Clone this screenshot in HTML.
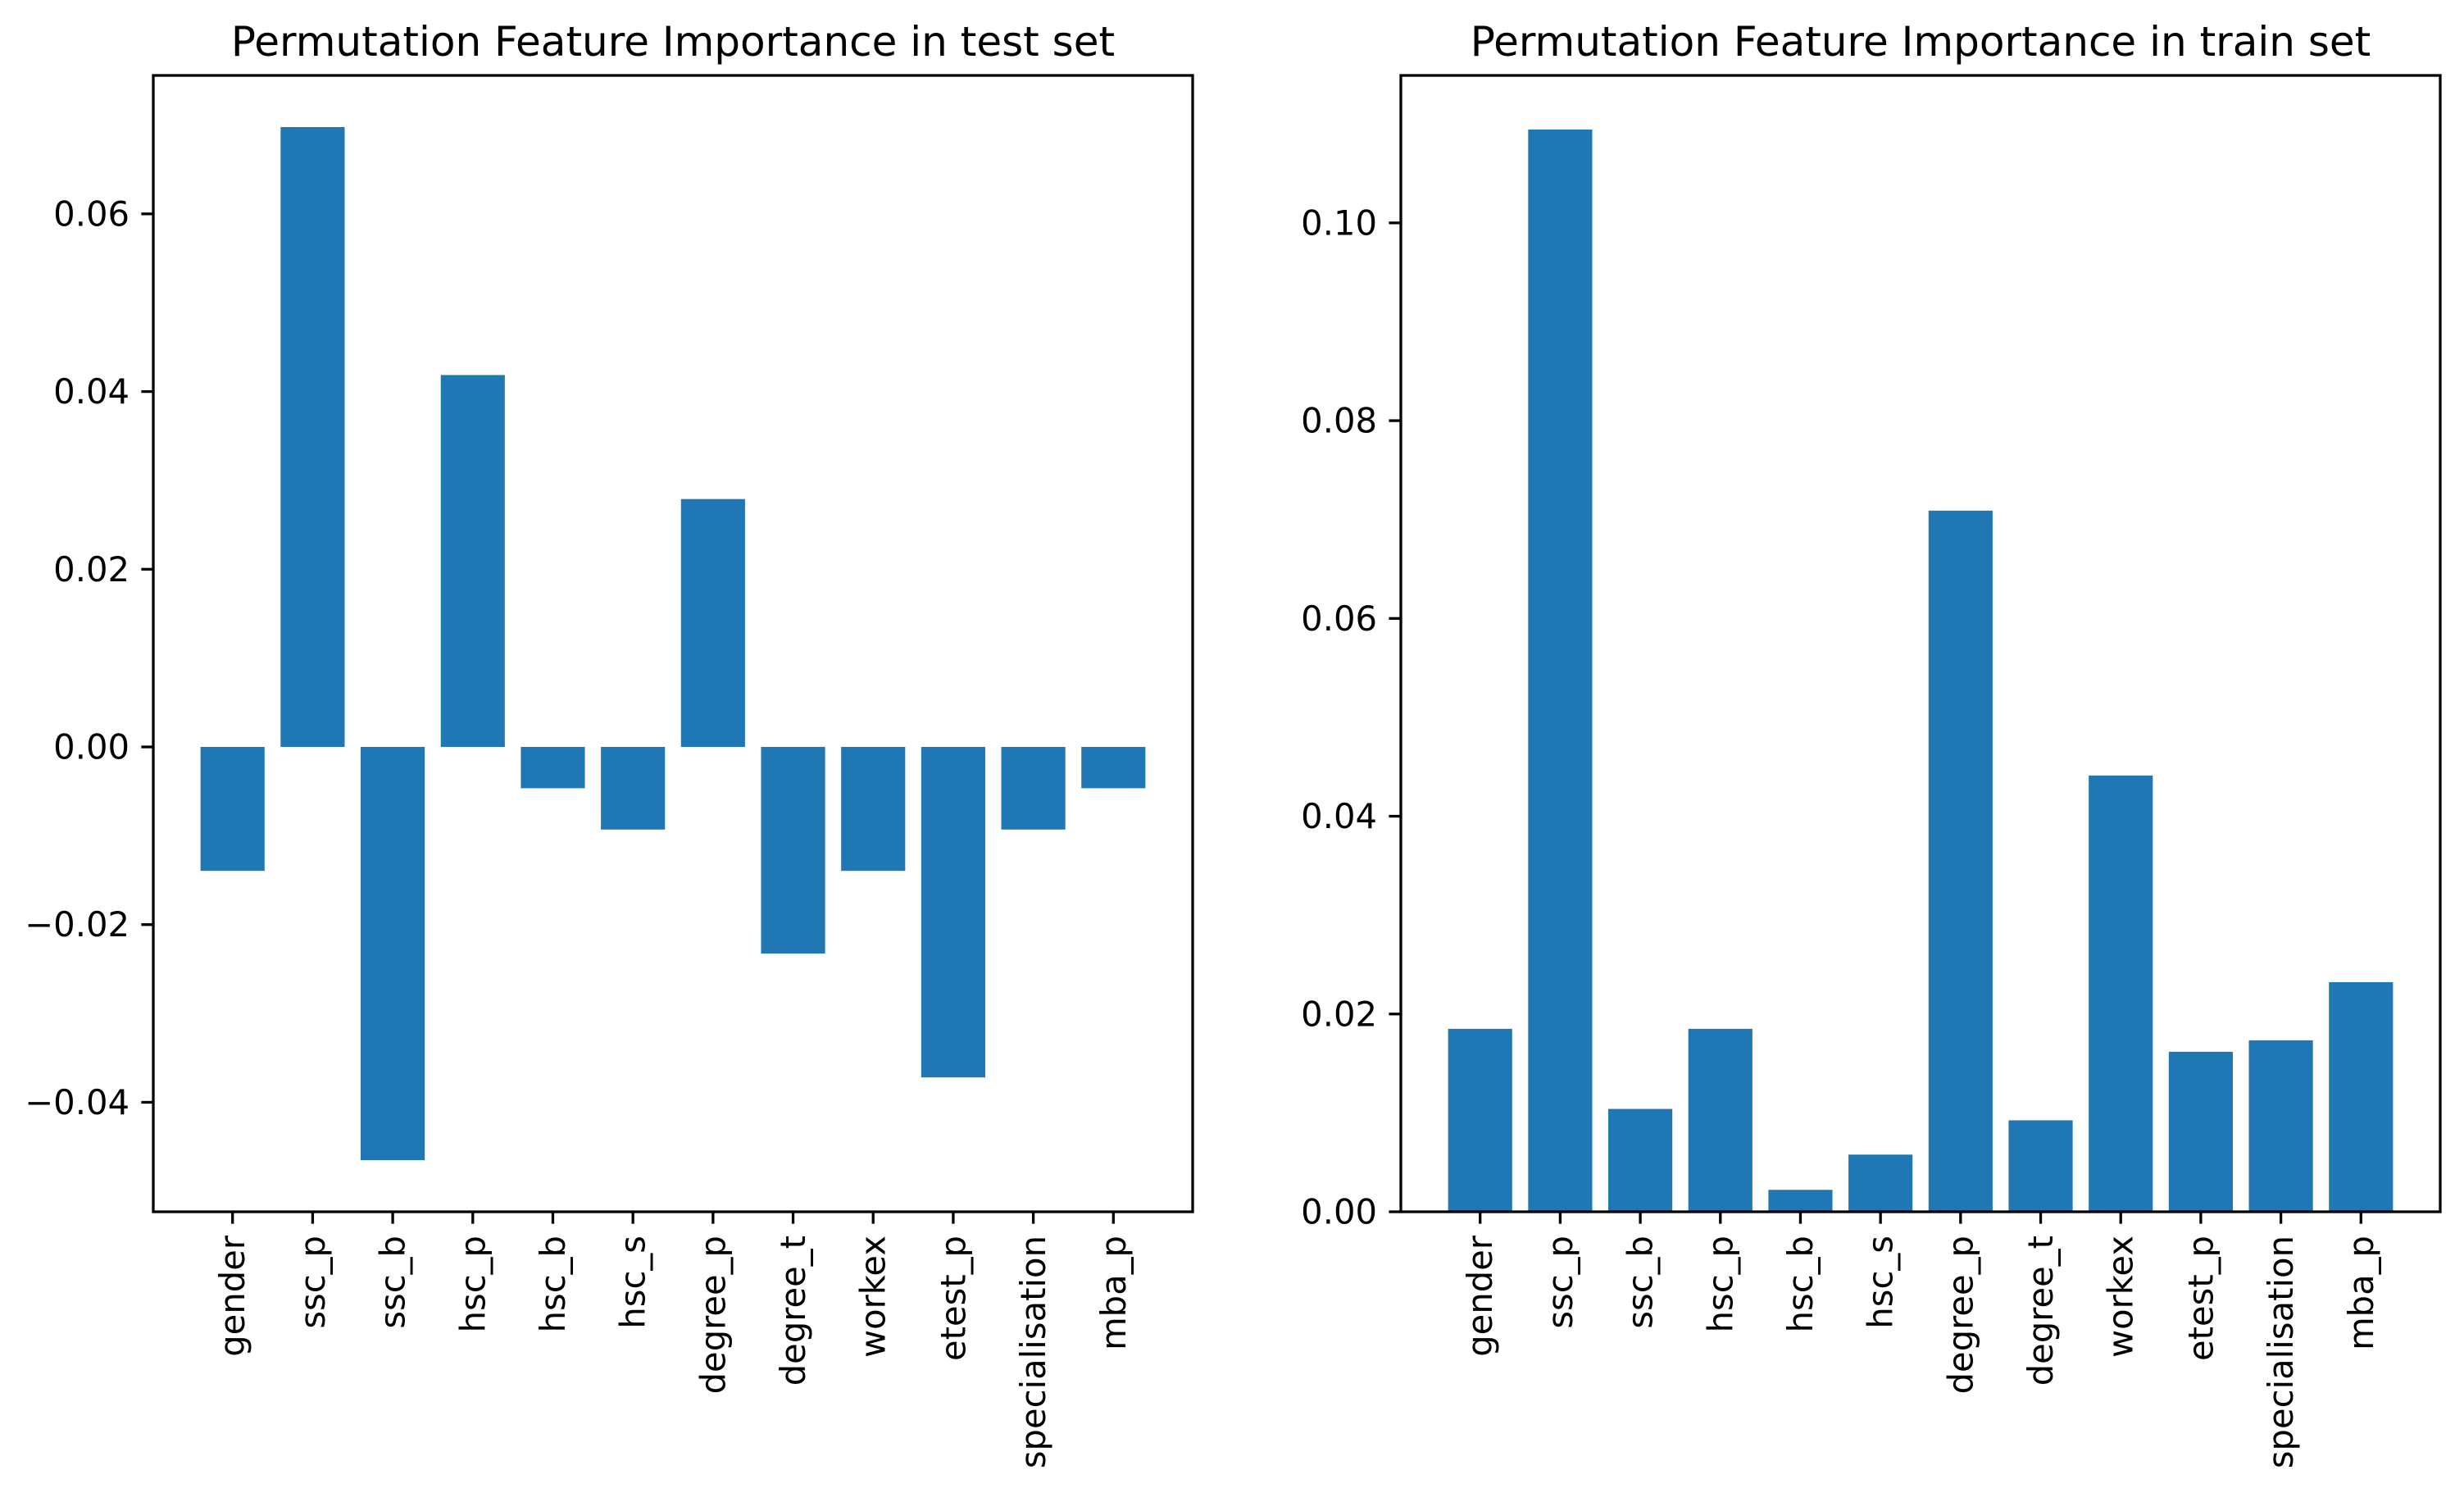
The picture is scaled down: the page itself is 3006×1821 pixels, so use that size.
<!DOCTYPE html>
<html><head><meta charset="utf-8"><style>
html,body{margin:0;padding:0;background:#fff}
svg{display:block}
text{font-family:"DejaVu Sans","Liberation Sans",sans-serif;fill:#000}
</style></head><body>
<svg id="fig" width="3006" height="1821" viewBox="0 0 3006 1821" xmlns="http://www.w3.org/2000/svg"></svg>
<script>
const categories = ["gender","ssc_p","ssc_b","hsc_p","hsc_b","hsc_s","degree_p","degree_t","workex","etest_p","specialisation","mba_p"];
const testValues = [-0.01395,0.06977,-0.04651,0.04186,-0.00465,-0.0093,0.0279,-0.02326,-0.01395,-0.0372,-0.0093,-0.00465];
const trainValues = [0.0185,0.10944,0.0104,0.0185,0.00222,0.00578,0.0709,0.00925,0.04412,0.01618,0.01734,0.02322];
const testTicks = [-0.04,-0.02,0,0.02,0.04,0.06];
const trainTicks = [0,0.02,0.04,0.06,0.08,0.10];
const titles = ["Permutation Feature Importance in test set","Permutation Feature Importance in train set"];

const NS="http://www.w3.org/2000/svg";
const svg=document.getElementById('fig');
function mk(tag,attrs,parent){const e=document.createElementNS(NS,tag);for(const k in attrs)e.setAttribute(k,attrs[k]);(parent||svg).appendChild(e);return e;}
function fmt(v){const s=Math.abs(v).toFixed(2);return (v< -1e-9?"\u2212":"")+s;}

function panel(name,left,right,top,bottom,values,ticks,title,includeZeroBottom){
  const g=mk('g',{});
  
  
  // y limits
  let dmin=Math.min(0,...values), dmax=Math.max(0,...values);
  const r=dmax-dmin;
  let ymin=dmin<0?dmin-0.05*r:0, ymax=dmax+0.05*r;
  const xmin=-0.99, xmax=categories.length-1+0.99;
  const X=v=>left+(v-xmin)/(xmax-xmin)*(right-left);
  const Y=v=>bottom-(v-ymin)/(ymax-ymin)*(bottom-top);
  values.forEach((v,i)=>{
    const y0=Y(0),y1=Y(v);
    const b=mk('rect',{x:X(i-0.4),y:Math.min(y0,y1),width:X(i+0.4)-X(i-0.4),height:Math.abs(y1-y0),fill:'#1f77b4'},g);
    
    
  });
  const fr=mk('rect',{x:left,y:top,width:right-left,height:bottom-top,fill:'none',stroke:'#000','stroke-width':3.3},g);
  
  
  ticks.forEach(t=>{
    const y=Y(t);
    mk('line',{x1:left-14.6,x2:left,y1:y,y2:y,stroke:'#000','stroke-width':3.3},g);
    const tx=mk('text',{x:left-29,y:y,'text-anchor':'end','dominant-baseline':'central','font-size':41.7},g);
    tx.textContent=fmt(t);
    
    
  });
  categories.forEach((c,i)=>{
    const x=X(i);
    mk('line',{x1:x,x2:x,y1:bottom,y2:bottom+14.6,stroke:'#000','stroke-width':3.3},g);
    const tx=mk('text',{x:0,y:0,'text-anchor':'end','dominant-baseline':'central','font-size':41.7,transform:`translate(${x},${bottom+29}) rotate(-90)`},g);
    tx.textContent=c;
    
    
  });
  const tt=mk('text',{x:(left+right)/2,y:68,'text-anchor':'middle','font-size':50},g);
  tt.textContent=title;
  
  
}
panel('test',187,1455,92,1478,testValues,testTicks,titles[0]);
panel('train',1709,2977,92,1478,trainValues,trainTicks,titles[1]);
</script>
</body></html>
